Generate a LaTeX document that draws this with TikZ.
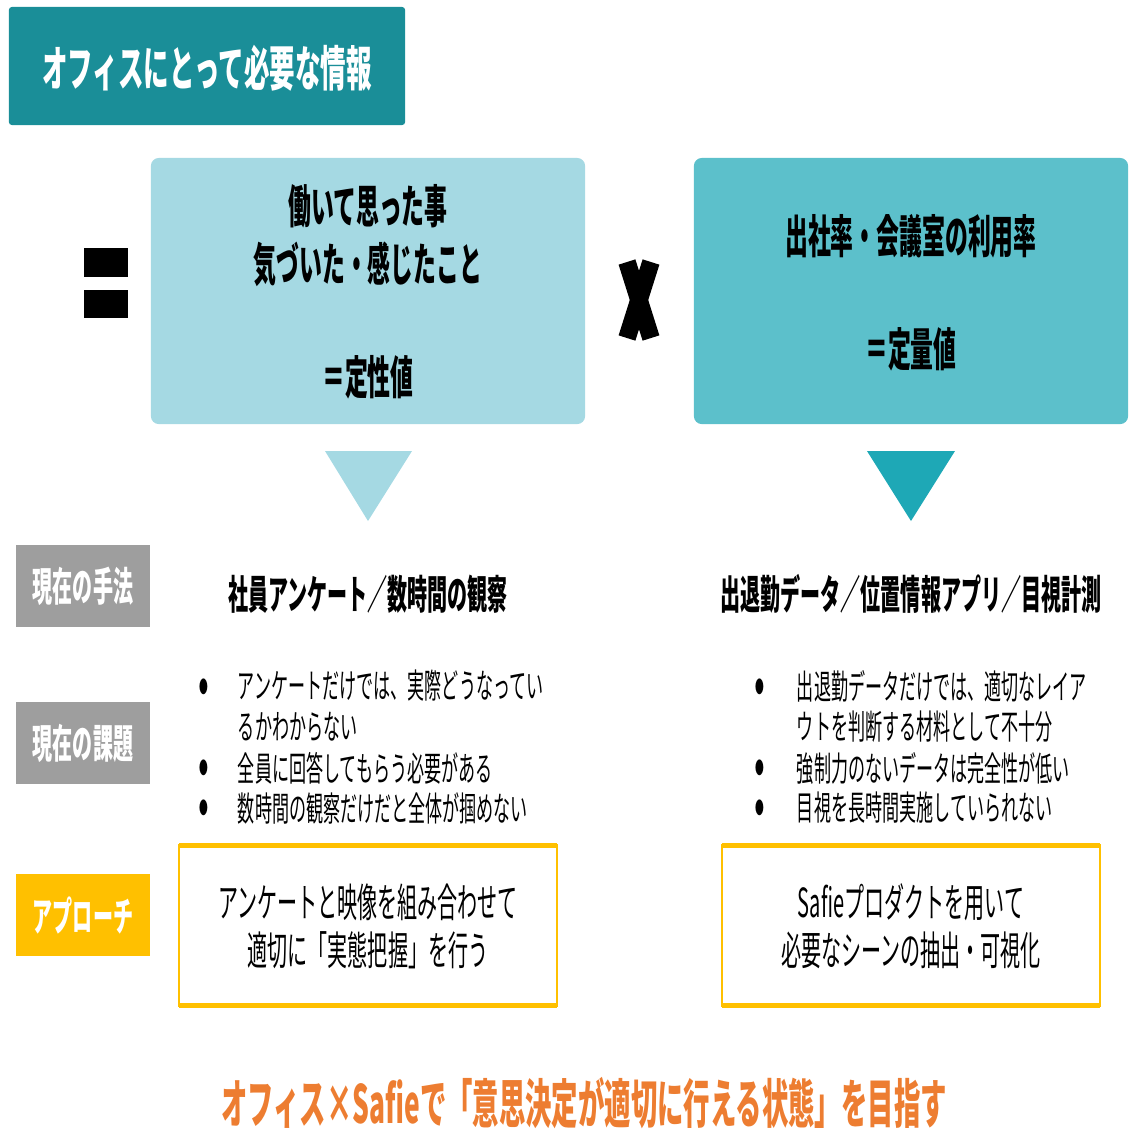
\documentclass[tikz,border=0pt]{standalone}
\usepackage{fontspec}
\newfontfamily\jp[FakeStretch=0.5]{Noto Sans CJK JP}
\newfontfamily\jpwide[FakeStretch=0.53]{Noto Sans CJK JP}
\definecolor{titleteal}{HTML}{1A8E98}
\definecolor{qualblue}{HTML}{A5D9E3}
\definecolor{quantteal}{HTML}{5CC0CB}
\definecolor{arrowteal}{HTML}{1EA8B6}
\definecolor{labelgray}{HTML}{9E9E9E}
\definecolor{apyellow}{HTML}{FFC000}
\definecolor{goalorange}{HTML}{ED7D31}
\tikzset{
  infobox/.style={rectangle, rounded corners=0.08cm, minimum width=4.34cm, minimum height=2.66cm},
  tag/.style={rectangle, minimum width=1.34cm, minimum height=0.81cm, text=white, font=\jp\bfseries\fontsize{11.4}{13}\selectfont},
  apbox/.style={rectangle, draw=apyellow, line width=0.6pt, fill=white, minimum width=3.77cm, minimum height=1.6cm},
  boxtxt/.style={font=\jp\bfseries\fontsize{13}{15}\selectfont},
  headtxt/.style={font=\jp\bfseries\fontsize{11.4}{13}\selectfont},
  bodytxt/.style={anchor=west, font=\jp\fontsize{9.7}{11}\selectfont},
  bul/.style={font=\jp\fontsize{5}{6}\selectfont},
  aptxt/.style={font=\jp\fontsize{11.4}{13}\selectfont}
}
\begin{document}
\begin{tikzpicture}[x=0.01cm, y=-0.01cm, every node/.style={inner sep=0pt, outer sep=0pt}]
  \useasboundingbox (0,0) rectangle (1138,1138);
  % 1. 見出し
  \node[rectangle, rounded corners=0.03cm, fill=titleteal, minimum width=3.96cm, minimum height=1.18cm] (title) at (207,66) {};
  \node[text=white, font=\jpwide\bfseries\fontsize{13.7}{15}\selectfont] (titletxt) at (207,68) {オフィスにとって必要な情報};

  % 2. 等号と二つの箱
  \fill[black] (84,248) rectangle (128,277);
  \fill[black] (84,290) rectangle (128,318);
  \node[infobox, fill=qualblue] (qual) at (368,291) {};
  \node[boxtxt] (qual1) at (368,206) {働いて思った事};
  \node[boxtxt] (qual2) at (368,264) {気づいた・感じたこと};
  \node[boxtxt] (qual3) at (368,377) {＝定性値};

  \draw[line width=5pt] (627,262) -- (651,338);
  \draw[line width=5pt] (651,262) -- (627,338);

  \node[infobox, fill=quantteal] (quant) at (911,291) {};
  \node[boxtxt] (quant1) at (911,236) {出社率・会議室の利用率};
  \node[boxtxt] (quant2) at (911,349) {＝定量値};

  % 3. 下向き三角
  \fill[qualblue] (325,451) -- (412,451) -- (368,521) -- cycle;
  \fill[arrowteal] (867,451) -- (955,451) -- (911,521) -- cycle;

  % 4. 左側のラベル
  \node[tag, fill=labelgray] (method) at (83,586) {現在の手法};
  \node[tag, fill=labelgray] (issue) at (83,743) {現在の課題};
  \node[tag, fill=apyellow] (approach) at (83,915) {アプローチ};

  % 5. 現在の手法
  \node[headtxt] (methodL) at (368,594) {社員アンケート／数時間の観察};
  \node[headtxt] (methodR) at (911,594) {出退勤データ／位置情報アプリ／目視計測};

  % 6. 現在の課題 (箇条書き)
  \node[bul] (bL1) at (204,687) {●};
  \node[bul] (bL2) at (204,768) {●};
  \node[bul] (bL3) at (204,808) {●};
  \node[bodytxt] (iL1) at (238,686) {アンケートだけでは、実際どうなってい};
  \node[bodytxt] (iL2) at (238,727) {るかわからない};
  \node[bodytxt] (iL3) at (238,768) {全員に回答してもらう必要がある};
  \node[bodytxt] (iL4) at (238,808) {数時間の観察だけだと全体が掴めない};

  \node[bul] (bR1) at (760,687) {●};
  \node[bul] (bR2) at (760,768) {●};
  \node[bul] (bR3) at (760,808) {●};
  \node[bodytxt] (iR1) at (797,686) {出退勤データだけでは、適切なレイア};
  \node[bodytxt] (iR2) at (797,727) {ウトを判断する材料として不十分};
  \node[bodytxt] (iR3) at (797,768) {強制力のないデータは完全性が低い};
  \node[bodytxt] (iR4) at (797,808) {目視を長時間実施していられない};

  % 7. アプローチ
  \node[apbox] (apL) at (368,925.5) {};
  \draw[apyellow, line width=1.4pt] (apL.north west) -- (apL.north east);
  \draw[apyellow, line width=1.4pt] (apL.south west) -- (apL.south east);
  \node[aptxt] (apL1) at (368,902) {アンケートと映像を組み合わせて};
  \node[aptxt] (apL2) at (368,950) {適切に「実態把握」を行う};

  \node[apbox] (apR) at (911,925.5) {};
  \draw[apyellow, line width=1.4pt] (apR.north west) -- (apR.north east);
  \draw[apyellow, line width=1.4pt] (apR.south west) -- (apR.south east);
  \node[aptxt] (apR1) at (911,902) {Safieプロダクトを用いて};
  \node[aptxt] (apR2) at (911,950) {必要なシーンの抽出・可視化};

  % 8. 結論
  \node[text=goalorange, font=\jp\bfseries\fontsize{15}{17}\selectfont] (goal) at (584,1103) {オフィス×Safieで「意思決定が適切に行える状態」を目指す};
\end{tikzpicture}
\end{document}
